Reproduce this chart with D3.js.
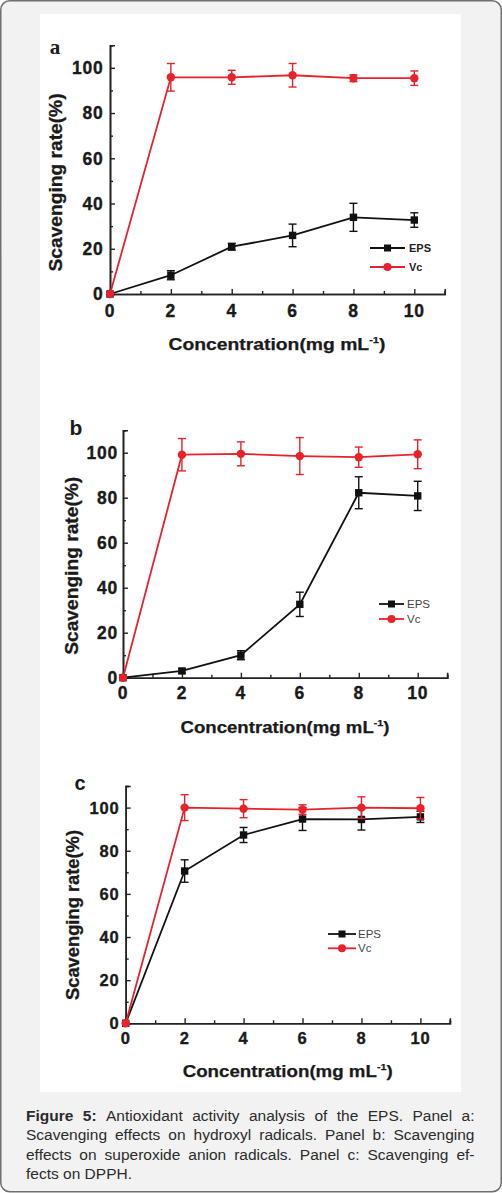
<!DOCTYPE html>
<html><head><meta charset="utf-8">
<script src="https://cdn.jsdelivr.net/npm/d3@7"></script>
<style>html,body{margin:0;padding:0;background:#fff;}svg{display:block;}</style>
</head><body>
<script>
// ---- data ----
const concentrations = [0, 2, 4, 6, 8, 10];
const xTicks = [0, 2, 4, 6, 8, 10];
const yTicks = [0, 20, 40, 60, 80, 100];
const seriesNames = ["EPS", "Vc"];
const panelLetters = ["a", "b", "c"];

const epsA = [0, 8.3, 20.9, 25.9, 33.9, 32.7];
const epsAErr = [0, 2.0, 1.5, 5.0, 6.2, 3.2];
const vcA = [0, 95.8, 95.8, 96.7, 95.4, 95.4];
const vcAErr = [0, 6.1, 3.1, 5.2, 1.5, 3.2];

const epsB = [0, 3.0, 10.0, 32.6, 82.2, 80.8];
const epsBErr = [0, 1.0, 2.0, 5.4, 7.1, 6.5];
const vcB = [0, 99.1, 99.5, 98.5, 98.0, 99.3];
const vcBErr = [0, 7.2, 5.3, 8.2, 4.5, 6.4];

const epsC = [0, 70.6, 87.3, 94.7, 94.5, 95.7];
const epsCErr = [0, 5.2, 3.5, 5.3, 4.9, 2.6];
const vcC = [0, 100, 99.5, 99.1, 100, 99.7];
const vcCErr = [0, 6.0, 4.2, 2.2, 5.0, 5.0];

const yTitle = "Scavenging rate(%)";
const xTitleMain = "Concentration(mg mL";
const xTitleSup = "-1";
const captionLines = [
  ["Figure 5:", " Antioxidant activity analysis of the EPS. Panel a:"],
  ["", "Scavenging effects on hydroxyl radicals. Panel b: Scavenging"],
  ["", "effects on superoxide anion radicals. Panel c: Scavenging ef-"],
  ["", "fects on DPPH."]
];

// ---- layout ----
const W = 502, H = 1193;
const svg = d3.select("body").append("svg").attr("width", W).attr("height", H);
svg.append("rect").attr("x", 0.75).attr("y", 0.75).attr("width", W - 1.5).attr("height", H - 2)
  .attr("rx", 9).attr("fill", "#f2f2f2").attr("stroke", "#6f6f6f").attr("stroke-width", 1.5);
svg.append("rect").attr("x", 40).attr("y", 14).attr("width", 421).attr("height", 1078).attr("fill", "#fff");

const RED = "#e8222a", BLACK = "#111";
const FONT = "Liberation Sans, Arial, sans-serif";

const panels = [
  { eps: epsA, epsErr: epsAErr, vc: vcA, vcErr: vcAErr,
    x0: 110, xUnit: 30.43, y0: 294, yUnit: 2.262,
    tickFs: 17.5, ylabRight: 103.5, xlabBase: 316.5,
    letter: { x: 55, y: 54, font: "Liberation Serif", fs: 21 },
    ytitle: { x: 61.5, y: 182.5, len: 178 }, xtitle: { x: 277, y: 350, len: 217 },
    legend: { x1: 370, x2: 405, y: [248, 267], tx: 409, fs: 11, weight: "bold", color: "#222" } },
  { eps: epsB, epsErr: epsBErr, vc: vcB, vcErr: vcBErr,
    x0: 123, xUnit: 29.47, y0: 677.7, yUnit: 2.25,
    tickFs: 17.5, ylabRight: 118, xlabBase: 699,
    letter: { x: 76, y: 434.5, font: "Liberation Sans", fs: 21 },
    ytitle: { x: 77.5, y: 565.8, len: 178 }, xtitle: { x: 285, y: 733, len: 209 },
    legend: { x1: 379, x2: 404, y: [604, 619], tx: 407, fs: 11.5, weight: "normal", color: "#444" } },
  { eps: epsC, epsErr: epsCErr, vc: vcC, vcErr: vcCErr,
    x0: 125.7, xUnit: 29.47, y0: 1023.3, yUnit: 2.157,
    tickFs: 16.5, ylabRight: 119.5, xlabBase: 1043.5,
    letter: { x: 80, y: 790, font: "Liberation Sans", fs: 20 },
    ytitle: { x: 79, y: 915, len: 170 }, xtitle: { x: 287.7, y: 1077, len: 210 },
    legend: { x1: 328, x2: 356, y: [934, 948.3], tx: 358, fs: 11.5, weight: "normal", color: "#444" } }
];

panels.forEach((p, pi) => {
  const x = d3.scaleLinear().domain([0, 11]).range([p.x0, p.x0 + 11 * p.xUnit]);
  const y = d3.scaleLinear().domain([0, 110]).range([p.y0, p.y0 - 110 * p.yUnit]);
  const g = svg.append("g");

  // axes (inward ticks)
  const xAxisMinor = d3.axisTop(x).tickValues(d3.range(1, 12, 2)).tickSize(3).tickFormat("");
  const xAxisMajor = d3.axisTop(x).tickValues(xTicks).tickSize(5).tickFormat("");
  const yAxisMinor = d3.axisRight(y).tickValues(d3.range(10, 111, 20)).tickSize(3).tickFormat("");
  const yAxisMajor = d3.axisRight(y).tickValues(yTicks).tickSize(5).tickFormat("");
  [ [xAxisMinor, "translate(0," + p.y0 + ")"], [xAxisMajor, "translate(0," + p.y0 + ")"],
    [yAxisMinor, "translate(" + p.x0 + ",0)"], [yAxisMajor, "translate(" + p.x0 + ",0)"] ].forEach(([ax, tr]) => {
    const a = g.append("g").attr("transform", tr).call(ax);
    a.select(".domain").attr("stroke", "#222").attr("stroke-width", 1.6);
    a.selectAll(".tick line").attr("stroke", "#222").attr("stroke-width", 1.4);
  });

  // tick labels
  const tickStyle = sel => sel.attr("font-family", FONT).attr("font-weight", "bold")
    .attr("font-size", p.tickFs).attr("letter-spacing", 0.8).attr("fill", "#1a1a1a")
    .attr("stroke", "#1a1a1a").attr("stroke-width", 0.35);
  g.selectAll(".xl").data(xTicks).enter().append("text")
    .attr("x", d => x(d)).attr("y", p.xlabBase).attr("text-anchor", "middle").call(tickStyle).text(d => d);
  g.selectAll(".yl").data(yTicks).enter().append("text")
    .attr("x", p.ylabRight).attr("y", d => y(d) + p.tickFs * 0.36).attr("text-anchor", "end").call(tickStyle).text(d => d);

  // titles
  g.append("text").attr("transform", "translate(" + p.ytitle.x + "," + p.ytitle.y + ") rotate(-90)")
    .attr("text-anchor", "middle").attr("font-family", FONT)
    .attr("font-weight", "bold").attr("font-size", 17.5).attr("fill", "#1a1a1a")
    .attr("stroke", "#1a1a1a").attr("stroke-width", 0.3)
    .attr("textLength", p.ytitle.len).attr("lengthAdjust", "spacingAndGlyphs").text(yTitle);
  const xt = g.append("text").attr("x", p.xtitle.x).attr("y", p.xtitle.y).attr("text-anchor", "middle")
    .attr("font-family", FONT).attr("font-weight", "bold")
    .attr("font-size", 16.5).attr("fill", "#1a1a1a").attr("stroke", "#1a1a1a").attr("stroke-width", 0.25)
    .attr("textLength", p.xtitle.len).attr("lengthAdjust", "spacingAndGlyphs");
  xt.append("tspan").text(xTitleMain);
  xt.append("tspan").attr("dy", -7).attr("font-size", 9.5).text(xTitleSup);
  xt.append("tspan").attr("dy", 7).text(")");

  // panel letter
  g.append("text").attr("x", p.letter.x).attr("y", p.letter.y).attr("text-anchor", "middle")
    .attr("font-family", p.letter.font).attr("font-weight", "bold").attr("font-size", p.letter.fs)
    .attr("fill", "#1a1a1a").text(panelLetters[pi]);

  const series = [
    { vals: p.eps, err: p.epsErr, color: BLACK, shape: "square" },
    { vals: p.vc, err: p.vcErr, color: RED, shape: "circle" }
  ];
  const line = d3.line().x((d, i) => x(concentrations[i])).y(d => y(d));
  series.forEach(s => {
    g.append("path").attr("d", line(s.vals)).attr("fill", "none")
      .attr("stroke", s.color).attr("stroke-width", 1.8);
    // error bars
    s.vals.forEach((v, i) => {
      if (s.err[i] <= 0) return;
      const cx = x(concentrations[i]);
      const eb = g.append("g").attr("stroke", s.color).attr("stroke-width", 1.4);
      eb.append("line").attr("x1", cx).attr("x2", cx).attr("y1", y(v - s.err[i])).attr("y2", y(v + s.err[i]));
      [v - s.err[i], v + s.err[i]].forEach(e => {
        eb.append("line").attr("x1", cx - 4).attr("x2", cx + 4).attr("y1", y(e)).attr("y2", y(e));
      });
    });
    // markers
    s.vals.forEach((v, i) => {
      const cx = x(concentrations[i]), cy = y(v);
      if (s.shape === "square") g.append("rect").attr("x", cx - 3.7).attr("y", cy - 3.7).attr("width", 7.4).attr("height", 7.4).attr("fill", s.color);
      else g.append("circle").attr("cx", cx).attr("cy", cy).attr("r", 4.2).attr("fill", s.color);
    });
  });

  // legend
  series.forEach((s, si) => {
    const ly = p.legend.y[si];
    g.append("line").attr("x1", p.legend.x1).attr("x2", p.legend.x2).attr("y1", ly).attr("y2", ly)
      .attr("stroke", s.color).attr("stroke-width", 1.8);
    const mx = (p.legend.x1 + p.legend.x2) / 2;
    if (s.shape === "square") g.append("rect").attr("x", mx - 3.5).attr("y", ly - 3.5).attr("width", 7).attr("height", 7).attr("fill", s.color);
    else g.append("circle").attr("cx", mx).attr("cy", ly).attr("r", 4).attr("fill", s.color);
    g.append("text").attr("x", p.legend.tx).attr("y", ly + p.legend.fs * 0.36)
      .attr("font-family", FONT).attr("font-weight", p.legend.weight)
      .attr("font-size", p.legend.fs).attr("fill", p.legend.color).text(seriesNames[si]);
  });
});

// caption, justified
const capX0 = 26, capX1 = 474.5, capBase = [1120.5, 1140, 1159.5, 1179], capFs = 15.5;
const capG = svg.append("g");
const measurer = capG.append("text").attr("font-family", FONT).attr("font-size", capFs);
function measure(t, bold) {
  measurer.attr("font-weight", bold ? "bold" : "normal").text(t);
  return measurer.node().getComputedTextLength();
}
const spaceW = measure("a a") - measure("aa");
captionLines.forEach((ln, li) => {
  const words = [];
  ln[0].split(" ").filter(w => w).forEach(w => words.push({ t: w, b: true }));
  ln[1].split(" ").filter(w => w).forEach(w => words.push({ t: w, b: false }));
  words.forEach(w => w.w = measure(w.t, w.b));
  const total = d3.sum(words, w => w.w);
  const last = li === captionLines.length - 1;
  const gap = last ? spaceW : (capX1 - capX0 - total) / (words.length - 1);
  let cx = capX0;
  const t = capG.append("text").attr("y", capBase[li]).attr("font-family", FONT)
    .attr("font-size", capFs).attr("fill", "#2b2b2b");
  words.forEach(w => {
    t.append("tspan").attr("x", cx).attr("font-weight", w.b ? "bold" : "normal").text(w.t);
    cx += w.w + gap;
  });
});
measurer.remove();
</script>
</body></html>
